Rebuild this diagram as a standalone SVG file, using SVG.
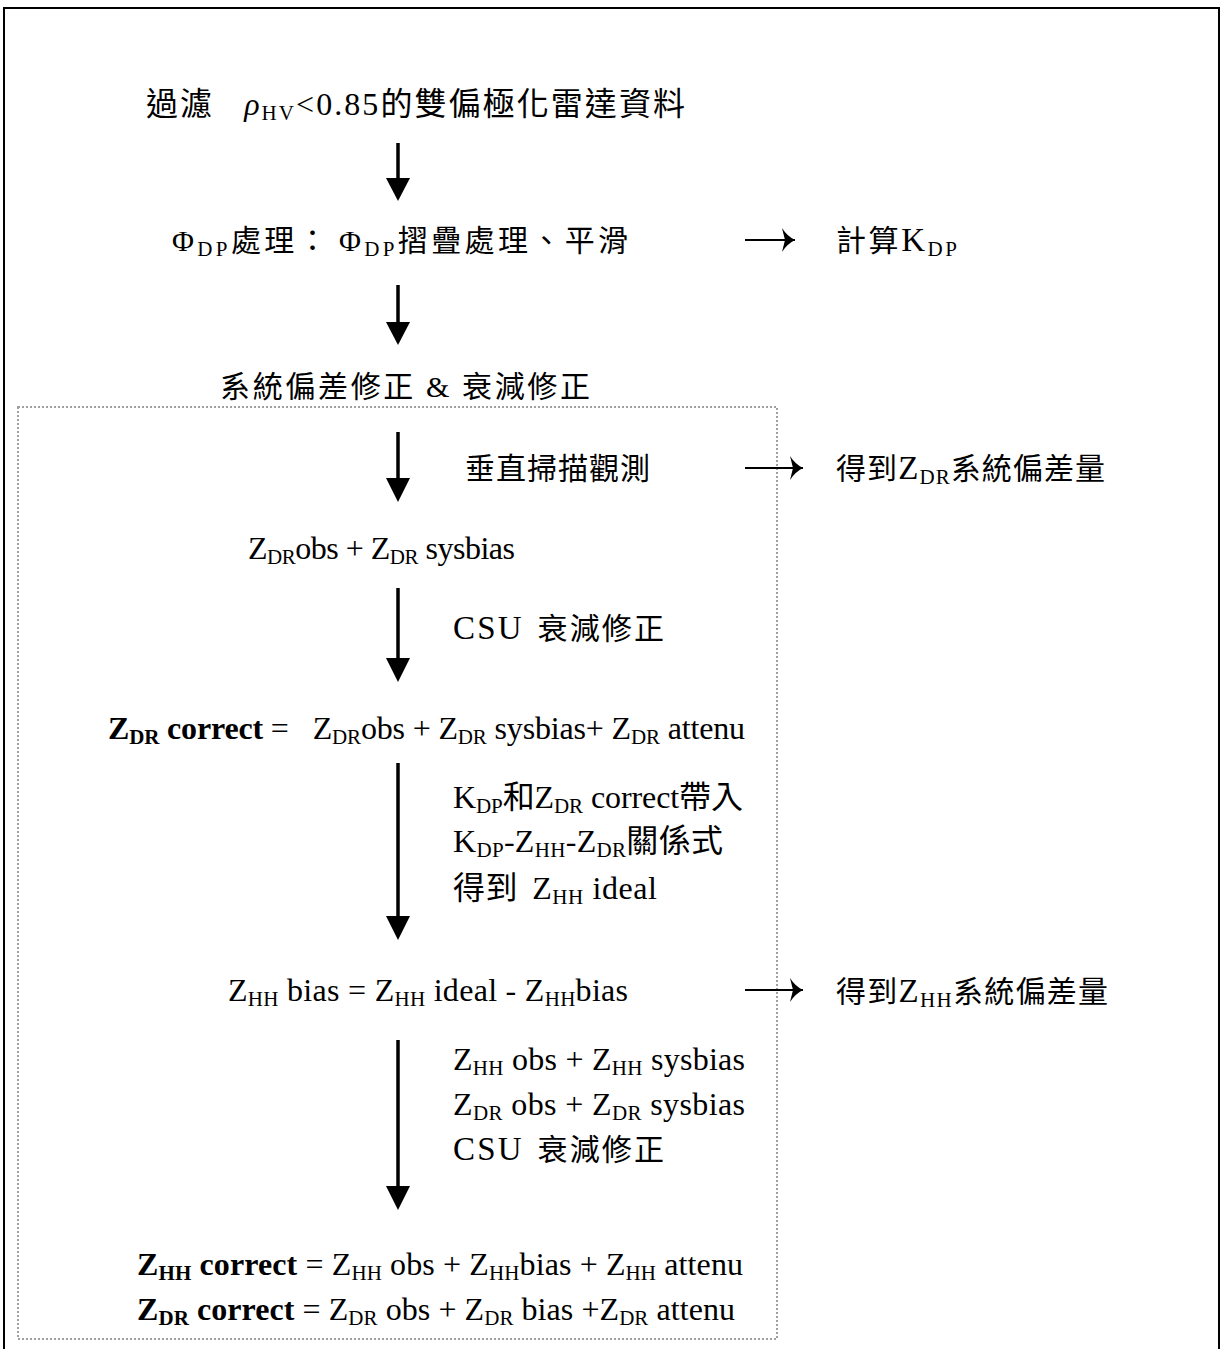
<svg xmlns="http://www.w3.org/2000/svg" width="1222" height="1349" viewBox="0 0 1222 1349" xml:space="preserve">
<defs>
<style>
.t{font-family:"Liberation Serif","Noto Sans CJK TC",serif;font-size:32px;fill:#000;white-space:pre}
.c{font-size:30px}
.l{font-size:33px}
.s{font-size:21px}
.b{font-weight:bold}
.v{stroke:#000;stroke-width:3.5;fill:none}
.h{stroke:#000;stroke-width:2;fill:none}
</style>
<marker id="rh" markerUnits="userSpaceOnUse" markerWidth="18" markerHeight="24" refX="16" refY="12" orient="auto" viewBox="0 0 18 24">
<path d="M3,0 Q8,8 16,12 Q8,16 3,24 L6,12 Z" fill="#000"/>
</marker>
</defs>
<rect x="4" y="8" width="1215" height="1360" fill="none" stroke="#000" stroke-width="2"/>
<rect id="correction-box" x="18" y="407" width="759" height="932" fill="none" stroke="#a0a0a0" stroke-width="2" stroke-dasharray="2,2"/>
<g id="connectors">
<path class="v" d="M398,143 V190"/><polygon points="386,178 410,178 398,201"/>
<path class="v" d="M398,285 V334"/><polygon points="386,322 410,322 398,345"/>
<path class="v" d="M398,432 V490"/><polygon points="386,478 410,478 398,502"/>
<path class="v" d="M398,588 V670"/><polygon points="386,658 410,658 398,682"/>
<path class="v" d="M398,763 V928"/><polygon points="386,916 410,916 398,940"/>
<path class="v" d="M398,1040 V1198"/><polygon points="386,1186 410,1186 398,1210"/>
<path class="h" d="M745,240 H795" marker-end="url(#rh)"/>
<path class="h" d="M745,468 H803" marker-end="url(#rh)"/>
<path class="h" d="M745,990 H803" marker-end="url(#rh)"/>
</g>
<g id="n-filter"><text class="t" x="146" y="115" font-size="34" textLength="539" lengthAdjust="spacing">過濾<tspan dx="30" font-style="italic">ρ</tspan><tspan class="s" dy="5">HV</tspan><tspan dy="-5">&lt;0.85的雙偏極化雷達資料</tspan></text></g>
<g id="n-phidp"><text class="t c" x="172" y="251" textLength="456" lengthAdjust="spacing">Φ<tspan class="s" dy="5">DP</tspan><tspan dy="-5">處理：</tspan><tspan dx="8">Φ</tspan><tspan class="s" dy="5">DP</tspan><tspan dy="-5">摺疊處理、平滑</tspan></text></g>
<g id="n-kdp"><text class="t c" x="836" y="251" textLength="121" lengthAdjust="spacing">計算<tspan class="l">K</tspan><tspan class="s" dy="5">DP</tspan></text></g>
<g id="n-sysbias"><text class="t c" x="220" y="397" textLength="370" lengthAdjust="spacing">系統偏差修正<tspan dx="10">&amp;</tspan><tspan dx="10">衰減修正</tspan></text></g>
<g id="n-vscan"><text class="t c" x="465" y="479" textLength="185" lengthAdjust="spacing">垂直掃描觀測</text></g>
<g id="n-zdr-bias"><text class="t c" x="836" y="479" textLength="269" lengthAdjust="spacing">得到<tspan class="l">Z</tspan><tspan class="s" dy="5">DR</tspan><tspan dy="-5">系統偏差量</tspan></text></g>
<g id="n-zdr-obs"><text class="t" x="248" y="559" textLength="267" lengthAdjust="spacing">Z<tspan class="s" dy="5">DR</tspan><tspan dy="-5">obs + Z</tspan><tspan class="s" dy="5">DR</tspan><tspan dy="-5"> sysbias</tspan></text></g>
<g id="n-csu1"><text class="t c" x="453" y="639" textLength="211" lengthAdjust="spacing"><tspan class="l">CSU</tspan><tspan dx="14">衰減修正</tspan></text></g>
<g id="n-zdr-correct"><text class="t" x="108" y="739" textLength="637" lengthAdjust="spacing"><tspan class="b">Z</tspan><tspan class="s b" dy="5">DR</tspan><tspan class="b" dy="-5"> correct</tspan><tspan> =</tspan><tspan dx="24">Z</tspan><tspan class="s" dy="5">DR</tspan><tspan dy="-5">obs + Z</tspan><tspan class="s" dy="5">DR</tspan><tspan dy="-5"> sysbias+ Z</tspan><tspan class="s" dy="5">DR</tspan><tspan dy="-5"> attenu</tspan></text></g>
<g id="n-relation">
<text class="t" x="453" y="808" textLength="290" lengthAdjust="spacing">K<tspan class="s" dy="5">DP</tspan><tspan dy="-5">和Z</tspan><tspan class="s" dy="5">DR</tspan><tspan dy="-5"> correct帶入</tspan></text>
<text class="t" x="453" y="852" textLength="270" lengthAdjust="spacing">K<tspan class="s" dy="5">DP</tspan><tspan dy="-5">-Z</tspan><tspan class="s" dy="5">HH</tspan><tspan dy="-5">-Z</tspan><tspan class="s" dy="5">DR</tspan><tspan dy="-5">關係式</tspan></text>
<text class="t" x="453" y="899" textLength="204" lengthAdjust="spacing">得到<tspan dx="14">Z</tspan><tspan class="s" dy="5">HH</tspan><tspan dy="-5"> ideal</tspan></text>
</g>
<g id="n-zhh-bias"><text class="t" x="228" y="1001" textLength="400" lengthAdjust="spacing">Z<tspan class="s" dy="5">HH</tspan><tspan dy="-5"> bias = Z</tspan><tspan class="s" dy="5">HH</tspan><tspan dy="-5"> ideal - Z</tspan><tspan class="s" dy="5">HH</tspan><tspan dy="-5">bias</tspan></text></g>
<g id="n-zhh-sys"><text class="t c" x="836" y="1002" textLength="272" lengthAdjust="spacing">得到<tspan class="l">Z</tspan><tspan class="s" dy="5">HH</tspan><tspan dy="-5">系統偏差量</tspan></text></g>
<g id="n-inputs">
<text class="t" x="453" y="1070" textLength="292" lengthAdjust="spacing">Z<tspan class="s" dy="5">HH</tspan><tspan dy="-5"> obs + Z</tspan><tspan class="s" dy="5">HH</tspan><tspan dy="-5"> sysbias</tspan></text>
<text class="t" x="453" y="1115" textLength="292" lengthAdjust="spacing">Z<tspan class="s" dy="5">DR</tspan><tspan dy="-5"> obs + Z</tspan><tspan class="s" dy="5">DR</tspan><tspan dy="-5"> sysbias</tspan></text>
<text class="t c" x="453" y="1160" textLength="211" lengthAdjust="spacing"><tspan class="l">CSU</tspan><tspan dx="14">衰減修正</tspan></text>
</g>
<g id="n-final">
<text class="t" x="137" y="1275" textLength="606" lengthAdjust="spacing"><tspan class="b">Z</tspan><tspan class="s b" dy="5">HH</tspan><tspan class="b" dy="-5"> correct</tspan> = Z<tspan class="s" dy="5">HH</tspan><tspan dy="-5"> obs + Z</tspan><tspan class="s" dy="5">HH</tspan><tspan dy="-5">bias + Z</tspan><tspan class="s" dy="5">HH</tspan><tspan dy="-5"> attenu</tspan></text>
<text class="t" x="137" y="1320" textLength="598" lengthAdjust="spacing"><tspan class="b">Z</tspan><tspan class="s b" dy="5">DR</tspan><tspan class="b" dy="-5"> correct</tspan> = Z<tspan class="s" dy="5">DR</tspan><tspan dy="-5"> obs + Z</tspan><tspan class="s" dy="5">DR</tspan><tspan dy="-5"> bias +Z</tspan><tspan class="s" dy="5">DR</tspan><tspan dy="-5"> attenu</tspan></text>
</g>
</svg>
